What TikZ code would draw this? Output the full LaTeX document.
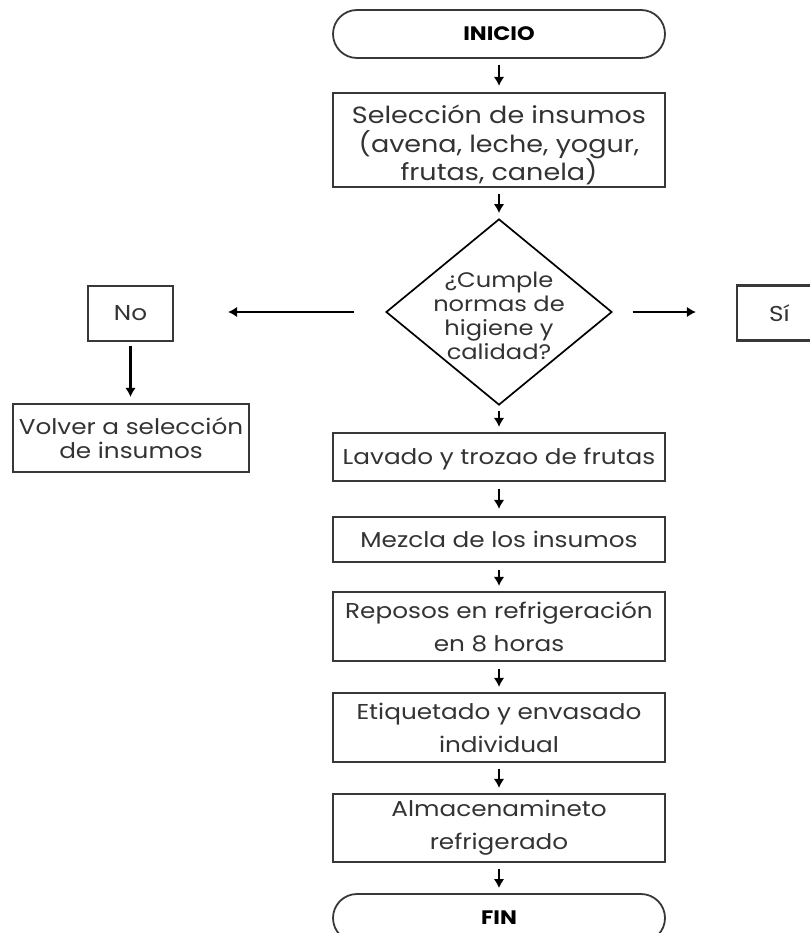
\documentclass[tikz,border=0pt]{standalone}
\usepackage{fontspec}
\setmainfont[FakeStretch=1.15]{Poppins}
\usetikzlibrary{shapes.geometric,shapes.misc,arrows.meta}
\definecolor{edge}{HTML}{383838}
\definecolor{ink}{HTML}{333333}
\tikzset{
  boxnode/.style={draw=edge, line width=2.1pt, rectangle, inner sep=0pt,
    minimum width=332pt, text=ink, align=center, font=\fontsize{21.5}{30}\selectfont},
  termnode/.style={draw=edge, line width=1.8pt, rounded rectangle, inner sep=0pt,
    minimum width=332pt, minimum height=48pt, text=black, font=\fontsize{19.5}{22}\selectfont\bfseries},
  decnode/.style={draw=black, line width=1.7pt, diamond, inner sep=0pt,
    minimum width=226pt, minimum height=186pt},
  dectext/.style={text=ink, align=center, yshift=-4pt, font=\fontsize{21}{24}\selectfont},
  seltext/.style={text=ink, align=center, yshift=-5pt, font=\fontsize{23.5}{28.5}\selectfont},
  arr/.style={draw=black, line width=2.3pt, -{Latex[length=9pt,width=10.5pt]}},
}
\begin{document}
\begin{tikzpicture}[x=1pt,y=-1pt]
\useasboundingbox (0,0) rectangle (810,933);
% main column
\node[termnode] (inicio) at (499,34) {INICIO};
\node[boxnode, minimum height=94pt,
  label={[seltext]center:{Selección de insumos\\(avena, leche, yogur,\\frutas, canela)}}] (sel) at (499,140) {};
\node[decnode, label={[dectext]center:{¿Cumple\\normas de\\higiene y\\calidad?}}] (dia) at (499,312) {};
\node[boxnode, minimum height=48pt, label={[text=ink, yshift=-2pt, font=\fontsize{21.5}{30}\selectfont]center:{Lavado y trozao de frutas}}] (lav) at (499,457) {};
\node[boxnode, minimum height=45pt] (mez) at (499,539.5) {Mezcla de los insumos};
\node[boxnode, minimum height=69pt, font=\fontsize{21.5}{33}\selectfont] (rep) at (499,626.5) {Reposos en refrigeración\\en 8 horas};
\node[boxnode, minimum height=69pt, font=\fontsize{21.5}{33}\selectfont] (eti) at (499,727.5) {Etiquetado y envasado\\individual};
\node[boxnode, minimum height=68pt, font=\fontsize{21.5}{33}\selectfont] (alm) at (499,828) {Almacenamineto\\refrigerado};
\node[termnode] (fin) at (499,918) {FIN};
% branches
\node[boxnode, minimum width=85pt, minimum height=55pt] (no) at (130.5,313.5) {No};
\node[boxnode, minimum width=236pt, minimum height=68pt, font=\fontsize{21.5}{24}\selectfont] (vol) at (131,438) {Volver a selección\\de insumos};
\node[boxnode, minimum width=85pt, minimum height=55pt] (si) at (779.5,313) {Sí};
% connectors
\draw[arr, shorten <=6pt, shorten >=6pt] (inicio.south) -- (sel.north);
\draw[arr, shorten <=6pt, shorten >=5pt] (sel.south) -- (dia.north);
\draw[arr, shorten <=5pt, shorten >=5pt] (dia.south) -- (lav.north);
\draw[arr, shorten <=7pt, shorten >=7pt] (lav.south) -- (mez.north);
\draw[arr, shorten <=7pt, shorten >=5pt] (mez.south) -- (rep.north);
\draw[arr, shorten <=7pt, shorten >=5pt] (rep.south) -- (eti.north);
\draw[arr, shorten <=6pt, shorten >=5pt] (eti.south) -- (alm.north);
\draw[arr, shorten <=6pt, shorten >=5pt] (alm.south) -- (fin.north);
\draw[arr, shorten <=31pt, shorten >=54pt] (dia.west) -- (no.east |- dia.west);
\draw[arr, shorten <=20pt, shorten >=40pt] (dia.east) -- (si.west |- dia.east);
\draw[arr, shorten <=4pt, shorten >=6pt] (no.south) -- (vol.north -| no.south);
\end{tikzpicture}
\end{document}
